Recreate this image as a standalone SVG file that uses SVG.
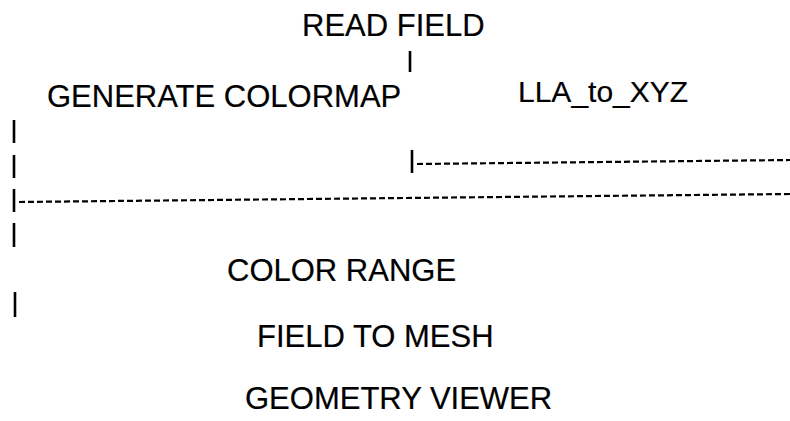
<svg xmlns="http://www.w3.org/2000/svg" width="790" height="421" viewBox="0 0 790 421">
<style>
text{font-family:"Liberation Sans",Arial,sans-serif;font-size:31px;fill:#000;stroke:#000;stroke-width:0.2}
.tick{stroke:#000;stroke-width:2.6;fill:none}
.dash{stroke:#000;stroke-width:2.2;stroke-dasharray:6 3;fill:none}
</style>
<rect width="790" height="421" fill="#fff"/>
<g id="read-field"><text x="302" y="36">READ FIELD</text></g>
<g id="generate-colormap"><text x="47" y="107">GENERATE COLORMAP</text></g>
<g id="lla-to-xyz"><text x="518" y="102" style="font-size:30px">LLA_to_XYZ</text></g>
<g id="color-range"><text x="227" y="281">COLOR RANGE</text></g>
<g id="field-to-mesh"><text x="257" y="347">FIELD TO MESH</text></g>
<g id="geometry-viewer"><text x="245" y="409">GEOMETRY VIEWER</text></g>
<g id="connectors">
<line class="tick" x1="410" y1="51" x2="410" y2="72"/>
<line class="tick" x1="412" y1="150" x2="412" y2="173"/>
<line class="dash" x1="417" y1="164" x2="790" y2="160"/>
<line class="tick" x1="14" y1="120" x2="14" y2="143"/>
<line class="tick" x1="14" y1="155" x2="14" y2="178"/>
<line class="tick" x1="14" y1="189" x2="14" y2="212"/>
<line class="dash" x1="19" y1="202" x2="790" y2="194"/>
<line class="tick" x1="14" y1="223" x2="14" y2="247"/>
<line class="tick" x1="15" y1="292" x2="15" y2="317"/>
</g>
</svg>
